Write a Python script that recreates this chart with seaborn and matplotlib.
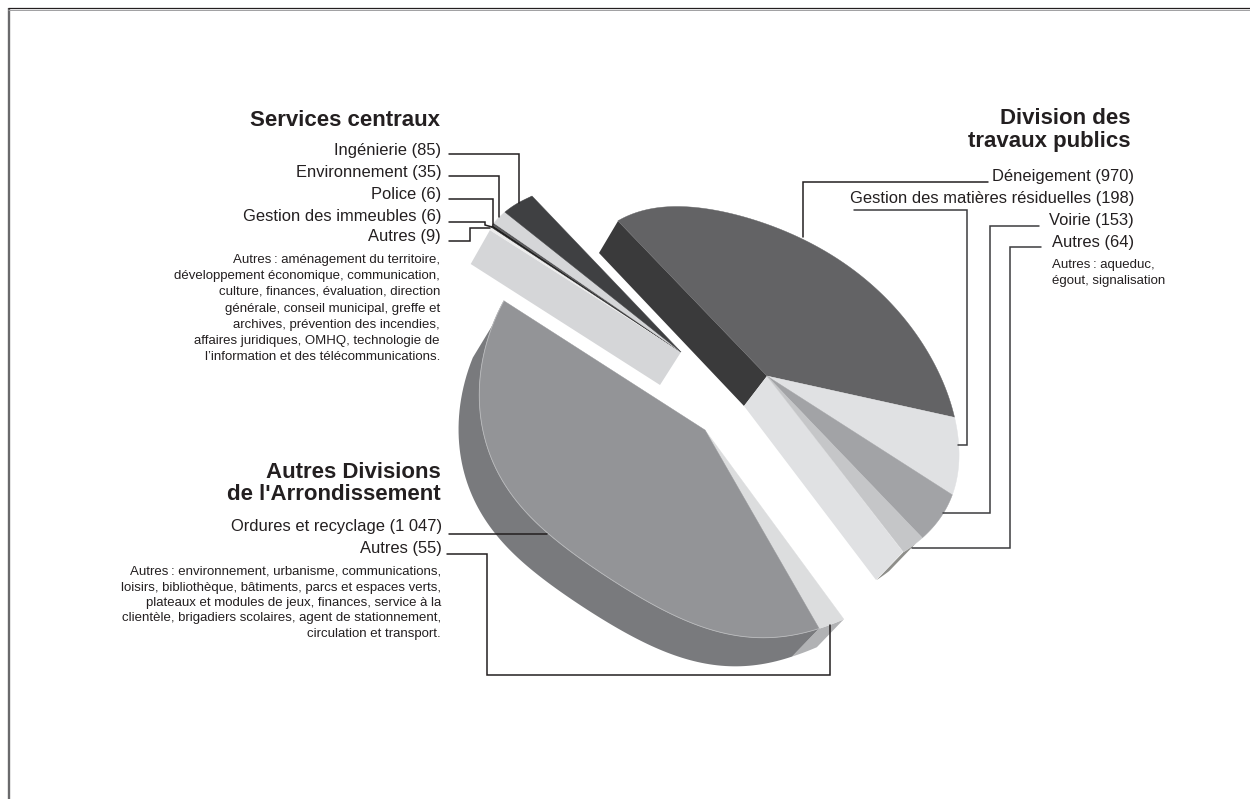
import numpy as np
import matplotlib
matplotlib.use("Agg")
import matplotlib.pyplot as plt
import seaborn as sns

# counts per activity, listed in label order
travaux_names = ["Déneigement", "Gestion des matières résiduelles", "Voirie", "Autres"]
travaux_values = [970, 198, 153, 64]
travaux_colors = ["#636365", "#e0e1e3", "#a2a3a6", "#c5c6c8"]

divisions_names = ["Ordures et recyclage", "Autres"]
divisions_values = [1047, 55]
divisions_colors = ["#939497", "#dcddde"]

services_names = ["Ingénierie", "Environnement", "Police", "Gestion des immeubles", "Autres"]
services_values = [85, 35, 6, 6, 9]
services_colors = ["#3f4042", "#d5d6d8", "#58585a", "#1f1f1f", "#ececec"]

services_note = [
    "Autres\u2009: aménagement du territoire,",
    "développement économique, communication,",
    "culture, finances, évaluation, direction",
    "générale, conseil municipal, greffe et",
    "archives, prévention des incendies,",
    "affaires juridiques, OMHQ, technologie de",
    "l’information et des télécommunications.",
]
travaux_note = ["Autres\u2009: aqueduc,", "égout, signalisation"]
divisions_note = [
    "Autres\u2009: environnement, urbanisme, communications,",
    "loisirs, bibliothèque, bâtiments, parcs et espaces verts,",
    "plateaux et modules de jeux, finances, service à la",
    "clientèle, brigadiers scolaires, agent de stationnement,",
    "circulation et transport.",
]

sns.set_theme(style="white")
plt.rcParams["font.family"] = ["Liberation Sans", "DejaVu Sans"]
TEXT = "#231f20"

# outline of the tilted disc for each block: angle on the pie, then x, y in the picture
travaux_rim = np.array([
    [0, 618, 221], [24.8, 683, 206], [47.5, 750, 220], [65.3, 803, 238], [83.7, 857, 273],
    [102.9, 907, 323], [119.2, 940, 373], [132.9, 954, 417], [144.4, 959, 453],
    [160, 952, 495], [181, 923, 538], [189.8, 903, 552],
])
divisions_rim = np.array([
    [189.8, 843, 619], [197.3, 820, 629], [214.6, 760, 638], [229.7, 707, 628], [251, 640, 597],
    [282, 547, 534], [298, 507, 487], [316, 485, 425], [326, 478, 377], [334, 488, 330],
    [340.7, 505, 303],
])
services_rim = np.array([
    [340.7, 490, 230], [343.6, 494, 223], [348.4, 505, 212], [354, 518, 203], [360, 532, 196],
])


def basis(deg):
    t = np.radians(deg)
    return np.column_stack([np.ones_like(t), np.cos(t), np.sin(t), np.cos(2 * t), np.sin(2 * t),
                            np.cos(3 * t), np.sin(3 * t)])


def rim_curve(anchors):
    base = anchors[:, 0].mean()
    coef, *_ = np.linalg.lstsq(basis(anchors[:, 0] - base), anchors[:, 1:], rcond=None)
    return lambda deg: basis(np.asarray(deg, dtype=float) - base) @ coef


def arc(curve, a, b):
    return curve(np.linspace(a, b, max(int(abs(b - a) * 3), 2)))


def draw_wedges(ax, apex, curve, start, values, colors, z):
    angle = start
    for value, color in zip(values, colors):
        sweep = value / total * 360
        pts = np.vstack([apex, arc(curve, angle, angle + sweep)])
        ax.fill(pts[:, 0], pts[:, 1], color=color, lw=0.3, zorder=z)
        angle += sweep
    return angle


def wall(ax, curve, a, b, da, db, color, z):
    ang = np.linspace(a, b, 120)
    top = curve(ang)
    f = ((ang - a) / (b - a))[:, None]
    low = top + np.array(da) * (1 - f) + np.array(db) * f
    pts = np.vstack([top, low[::-1]])
    ax.fill(pts[:, 0], pts[:, 1], color=color, lw=0, zorder=z)


def leader(ax, xs, ys, color="#231f20"):
    ax.plot(xs, ys, color=color, lw=1.1, solid_joinstyle="miter", zorder=8)


def text_block(ax, x, ys, lines, size, ha="right", weight="normal"):
    for y, line in zip(ys, lines):
        ax.text(x, y, line, fontsize=size, ha=ha, va="center", color=TEXT, fontweight=weight, zorder=9)


total = sum(travaux_values) + sum(divisions_values) + sum(services_values)

fig = plt.figure(figsize=(12.5, 7.99), dpi=100)
ax = fig.add_axes([0, 0, 1, 1])
ax.set_xlim(0, 1250)
ax.set_ylim(799, 0)
ax.axis("off")

# frame: only the top and left sides
ax.plot([8.8, 8.8], [8, 799], color="#6a6a6c", lw=1.7, solid_capstyle="butt")
ax.plot([8, 1250], [9.6, 9.6], color="#a0a0a2", lw=0.7, solid_capstyle="butt")
ax.plot([8, 1250], [8.4, 8.4], color="#231f20", lw=0.9, solid_capstyle="butt")

# travaux publics block
travaux_apex = np.array([767, 376])
travaux_curve = rim_curve(travaux_rim)
wall(ax, travaux_curve, 184, 189.8, (-27, 28), (-27, 28), "#8e8e8a", 1)
face = np.array([travaux_apex, [618, 221], [599, 253], [744, 406]])
ax.fill(face[:, 0], face[:, 1], color="#3a3a3b", lw=0, zorder=2)
face = np.array([travaux_apex, [903, 552], [876, 580], [744, 406]])
ax.fill(face[:, 0], face[:, 1], color="#e0e1e3", lw=0, zorder=2)
end_travaux = draw_wedges(ax, travaux_apex, travaux_curve, 0, travaux_values, travaux_colors, 3)

# autres divisions block
divisions_apex = np.array([705, 430])
divisions_curve = rim_curve(divisions_rim)
wall(ax, divisions_curve, end_travaux, 197.3, (-27, 28), (-27, 28), "#b1b2b4", 1)
wall(ax, divisions_curve, 197.3, 336, (-27, 28), (-20, 33), "#797a7d", 1)
end_divisions = draw_wedges(ax, divisions_apex, divisions_curve, end_travaux,
                            divisions_values[::-1], divisions_colors[::-1], 3)
edge = arc(divisions_curve, 197.3, end_divisions)
ax.plot(edge[:, 0], edge[:, 1], color="#b9babc", lw=0.6, zorder=4)

# services centraux block
services_apex = np.array([681, 352])
services_curve = rim_curve(services_rim)
face = np.array([services_apex, [490, 230], [470.7, 264], [660, 385]])
ax.fill(face[:, 0], face[:, 1], color="#d5d6d8", lw=0, zorder=2)
draw_wedges(ax, services_apex, services_curve, end_divisions,
            services_values[::-1], services_colors[::-1], 3)

# leaders
leader(ax, [449, 519, 519], [154, 154, 203])
leader(ax, [449, 499, 499], [176, 176, 217])
leader(ax, [449, 493, 493], [199, 199, 225])
leader(ax, [449, 485, 485, 492], [222, 222, 225, 227])
leader(ax, [449, 470, 470, 490], [241, 241, 228, 228])
leader(ax, [988, 803, 803], [182, 182, 237])
leader(ax, [854, 967, 967, 958], [210, 210, 445, 445], "#3c3c3e")
leader(ax, [1039, 990, 990, 943], [226, 226, 513, 513], "#3c3c3e")
leader(ax, [1041, 1010, 1010, 912], [247, 247, 548, 548], "#3c3c3e")
leader(ax, [449, 547], [534, 534])
leader(ax, [447, 487, 487, 830, 830], [554, 554, 675, 675, 625])

# text
H = 16
L = 11.85
S = 9.5
text_block(ax, 440, [120], ["Services centraux"], H, weight="bold")
text_block(ax, 441, [150, 172, 194, 216, 237],
           [f"{n} ({v})" for n, v in zip(services_names, services_values)], L)
text_block(ax, 440, [260, 276, 292, 309, 325, 341, 357], services_note, S)

text_block(ax, 1130, [118, 142], ["Division des", "travaux publics"], H, weight="bold")
text_block(ax, 1134, [177, 199, 221, 243],
           [f"{n} ({v})" for n, v in zip(travaux_names, travaux_values)], L)
text_block(ax, 1052, [265, 281], travaux_note, S, ha="left")

text_block(ax, 441, [472, 495], ["Autres Divisions", "de l'Arrondissement"], H, weight="bold")
text_block(ax, 442, [527, 549],
           [f"{n} ({v:,})".replace(",", " ") for n, v in zip(divisions_names, divisions_values)], L)
text_block(ax, 441, [572, 588, 603, 618, 634], divisions_note, S)

fig.savefig("out.png", dpi=100)
